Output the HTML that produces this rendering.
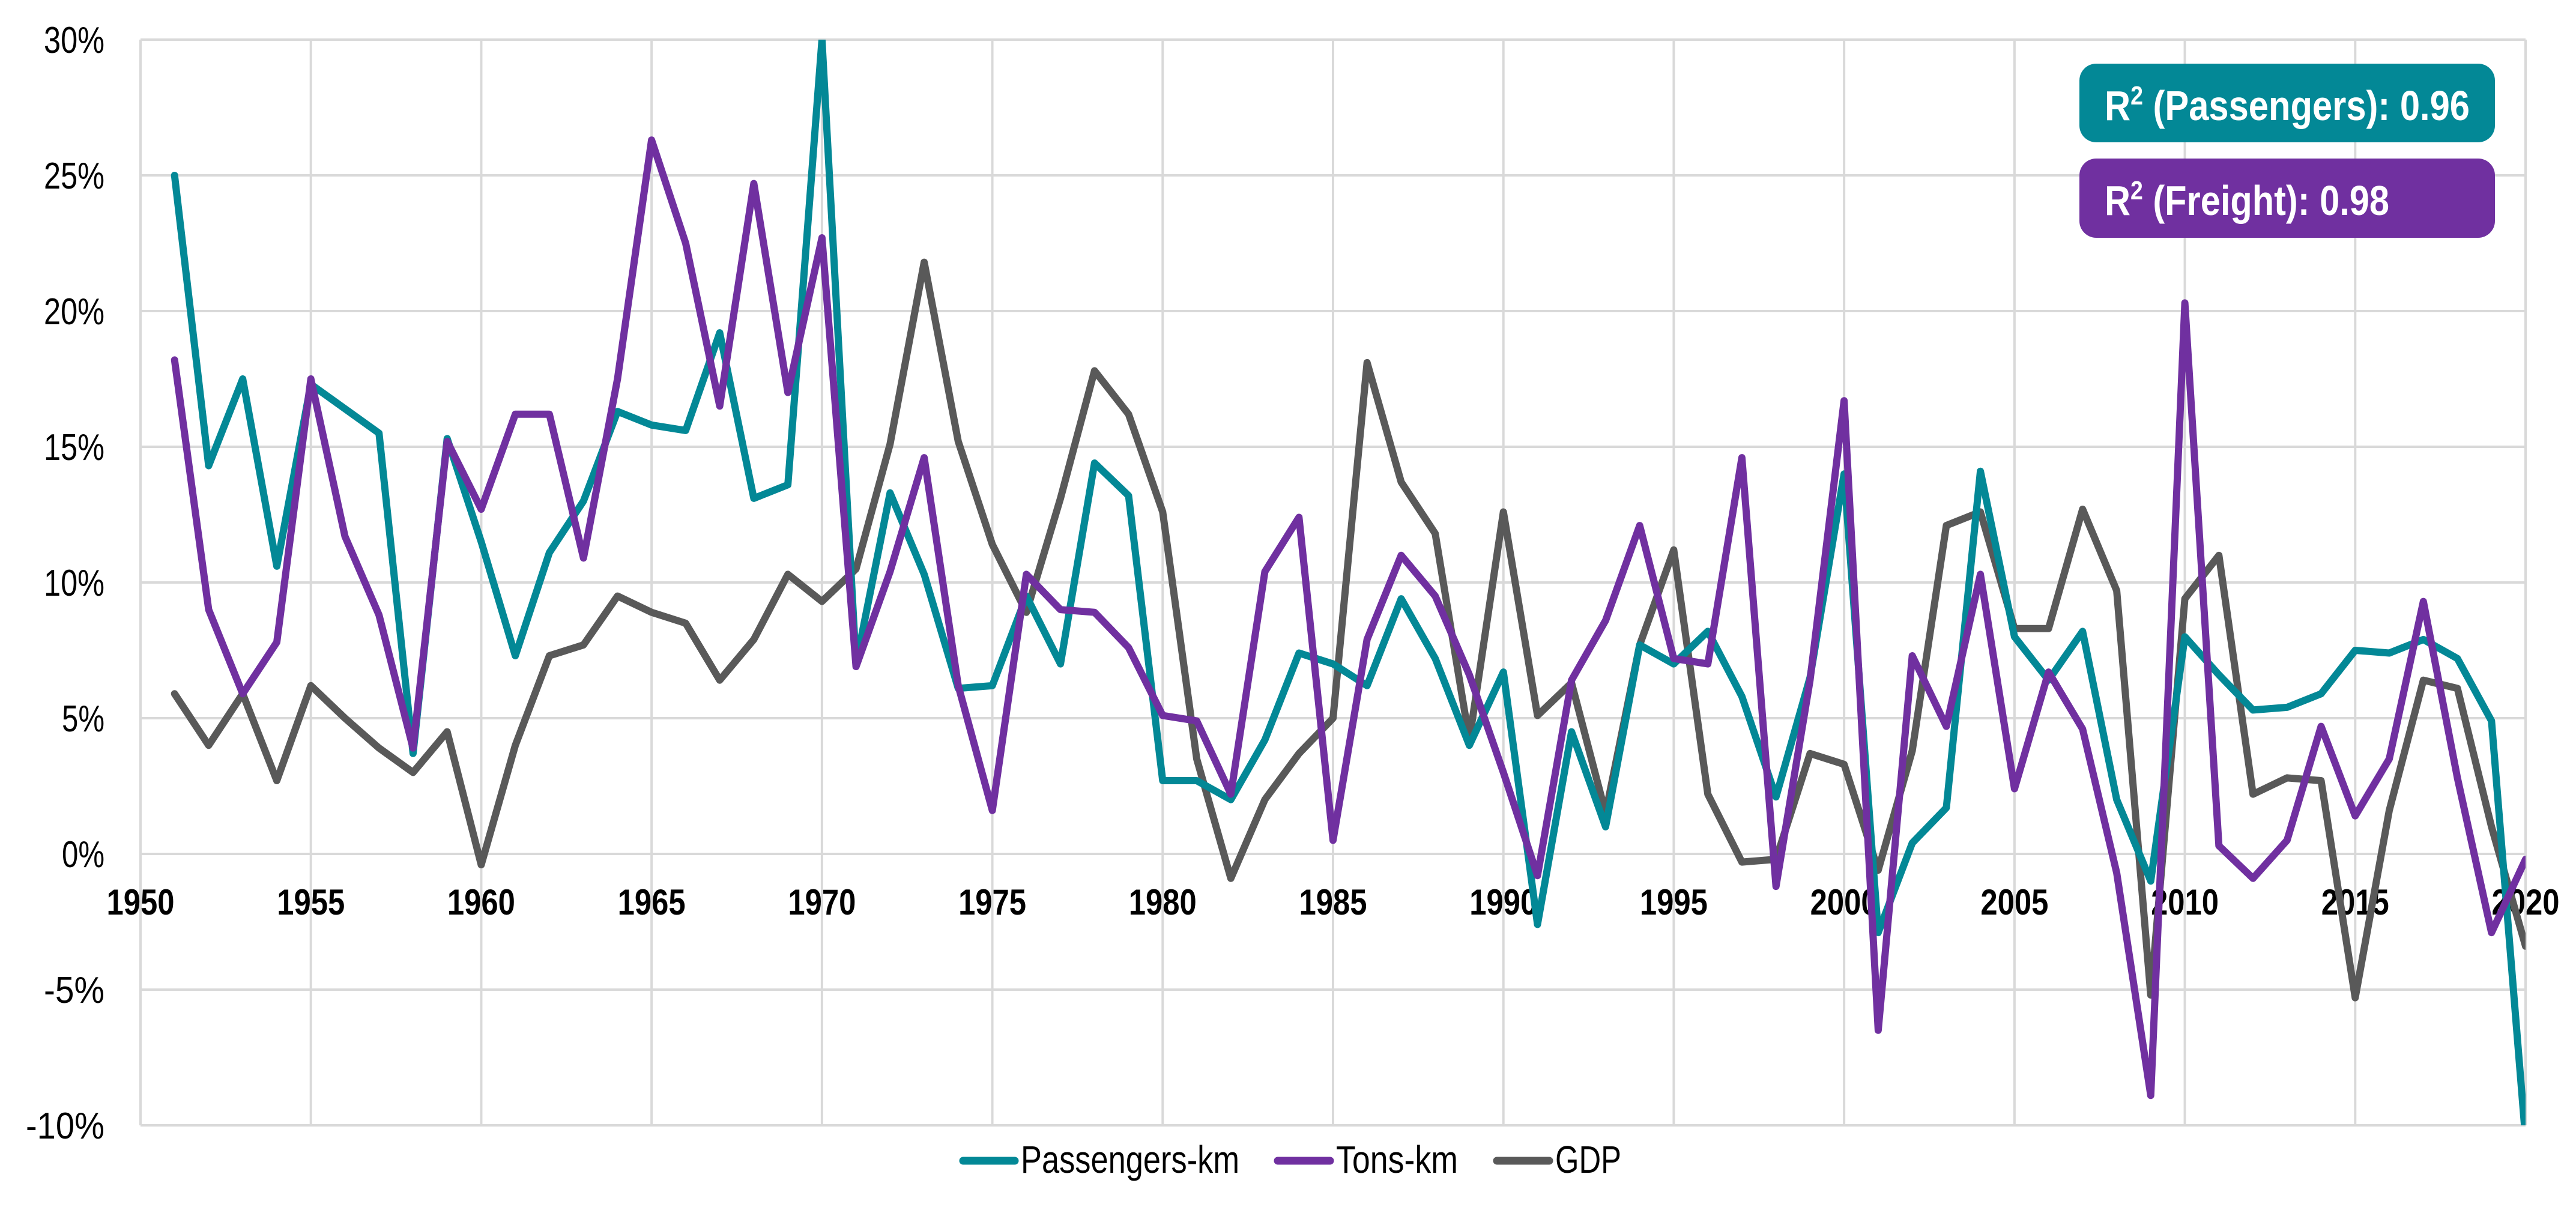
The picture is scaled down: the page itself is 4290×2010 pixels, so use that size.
<!DOCTYPE html>
<html><head><meta charset="utf-8"><style>
html,body{margin:0;padding:0;background:#fff;}
svg{display:block;font-family:"Liberation Sans",sans-serif;}
</style></head><body>
<svg id="chart" width="4290" height="2010" viewBox="0 0 4290 2010" xmlns="http://www.w3.org/2000/svg">
<defs><clipPath id="plotclip"><rect x="234" y="66" width="3972" height="1808"/></clipPath></defs>
<g id="grid"></g>
<g id="yticks"></g>
<g id="xticks"></g>
<g id="series" clip-path="url(#plotclip)"></g>
<g>
<rect x="3463" y="106" width="692" height="131" rx="28" fill="#038896"/>
<text x="3505" y="200" font-size="70" font-weight="bold" fill="#fff" textLength="608" lengthAdjust="spacingAndGlyphs">R<tspan dy="-26" font-size="44">2</tspan><tspan dy="26"> (Passengers): 0.96</tspan></text>
</g>
<g>
<rect x="3463" y="264" width="692" height="132" rx="28" fill="#7030a0"/>
<text x="3505" y="358" font-size="70" font-weight="bold" fill="#fff" textLength="474" lengthAdjust="spacingAndGlyphs">R<tspan dy="-26" font-size="44">2</tspan><tspan dy="26"> (Freight): 0.98</tspan></text>
</g>
<g>
<g>
<line x1="1604" y1="1933" x2="1690" y2="1933" stroke="#038896" stroke-width="13" stroke-linecap="round"/>
<text x="1700" y="1953" font-size="64" textLength="364" lengthAdjust="spacingAndGlyphs">Passengers-km</text></g>
<g>
<line x1="2128" y1="1933" x2="2215" y2="1933" stroke="#7030a0" stroke-width="13" stroke-linecap="round"/>
<text x="2225" y="1953" font-size="64" textLength="203" lengthAdjust="spacingAndGlyphs">Tons-km</text></g>
<g>
<line x1="2493" y1="1933" x2="2580" y2="1933" stroke="#595959" stroke-width="13" stroke-linecap="round"/>
<text x="2590" y="1953" font-size="64" textLength="110" lengthAdjust="spacingAndGlyphs">GDP</text></g>
</g>
</svg>
<script>
const years = [];
for (let yr = 1951; yr <= 2020; yr++) years.push(yr);
const passengers = [25,14.3,17.5,10.6,17.3,16.4,15.5,3.7,15.3,11.5,7.3,11.1,13.0,16.3,15.8,15.6,19.2,13.1,13.6,30,7.0,13.3,10.3,6.1,6.2,9.5,7.0,14.4,13.2,2.7,2.7,2.0,4.2,7.4,7.0,6.2,9.4,7.2,4.0,6.7,-2.6,4.5,1.0,7.7,7.0,8.2,5.8,2.1,6.5,14.0,-2.9,0.4,1.7,14.1,8.0,6.4,8.2,2.0,-1.0,8.0,6.6,5.3,5.4,5.9,7.5,7.4,7.9,7.2,4.9,-10.5];
const tons = [18.2,9.0,5.9,7.8,17.5,11.7,8.8,3.9,15.2,12.7,16.2,16.2,10.9,17.5,26.3,22.5,16.5,24.7,17.0,22.7,6.9,10.4,14.6,6.2,1.6,10.3,9.0,8.9,7.6,5.1,4.9,2.2,10.4,12.4,0.5,7.9,11.0,9.5,6.6,3.0,-0.8,6.4,8.6,12.1,7.2,7.0,14.6,-1.2,6.4,16.7,-6.5,7.3,4.7,10.3,2.4,6.7,4.6,-0.7,-8.9,20.3,0.3,-0.9,0.5,4.7,1.4,3.5,9.3,2.8,-2.9,-0.2];
const gdp = [5.9,4.0,5.9,2.7,6.2,5.0,3.9,3.0,4.5,-0.4,4.0,7.3,7.7,9.5,8.9,8.5,6.4,7.9,10.3,9.3,10.5,15.1,21.8,15.2,11.4,8.9,13.1,17.8,16.2,12.6,3.5,-0.9,2.0,3.7,5.0,18.1,13.7,11.8,4.2,12.6,5.1,6.3,1.5,7.7,11.2,2.2,-0.3,-0.2,3.7,3.3,-0.6,3.8,12.1,12.6,8.3,8.3,12.7,9.7,-5.2,9.4,11.0,2.2,2.8,2.7,-5.3,1.6,6.4,6.1,1.0,-3.4];
const yTicks = [30,25,20,15,10,5,0,-5,-10];
const xTicks = [1950,1955,1960,1965,1970,1975,1980,1985,1990,1995,2000,2005,2010,2015,2020];

const X0=234, X1=4206, Y0=1422, PXPCT=45.2;
function xs(yr){ return X0 + (yr-1950)*(X1-X0)/70; }
function ys(v){ return Y0 - v*PXPCT; }
const NS="http://www.w3.org/2000/svg";
function mk(tag, parent, attrs){ const e=document.createElementNS(NS,tag); for(const k in attrs) e.setAttribute(k,attrs[k]); parent.appendChild(e); return e; }

const grid=document.getElementById('grid');
yTicks.forEach(v=>{
  const l=mk('line',grid,{x1:X0,x2:X1,y1:ys(v),y2:ys(v),stroke:'#d9d9d9','stroke-width':4});
  
  
  const t=mk('text',document.getElementById('yticks'),{x:174,y:ys(v)+22,'font-size':62,'text-anchor':'end'});
  
  
  t.textContent=v+'%';
  t.setAttribute('textLength', (String(v).length+1)*30+11);
  t.setAttribute('lengthAdjust','spacingAndGlyphs');
});
xTicks.forEach(yr=>{
  const l=mk('line',grid,{x1:xs(yr),x2:xs(yr),y1:ys(30),y2:ys(-10),stroke:'#d9d9d9','stroke-width':4});
  
  
  const t=mk('text',document.getElementById('xticks'),{x:xs(yr),y:1523,'font-size':60,'font-weight':'bold','text-anchor':'middle',textLength:113,lengthAdjust:'spacingAndGlyphs'});
  
  
  t.textContent=yr;
});
const ser=document.getElementById('series');
[[gdp,'#595959','gdp-line'],[passengers,'#038896','passengers-line'],[tons,'#7030a0','tons-line']].forEach(([vals,col,name])=>{
  const pts=vals.map((v,i)=>xs(years[i]).toFixed(1)+','+ys(v).toFixed(1)).join(' ');
  const p=mk('polyline',ser,{points:pts,fill:'none',stroke:col,'stroke-width':12,'stroke-linejoin':'round','stroke-linecap':'round'});
  
  
});
</script>
</body></html>
